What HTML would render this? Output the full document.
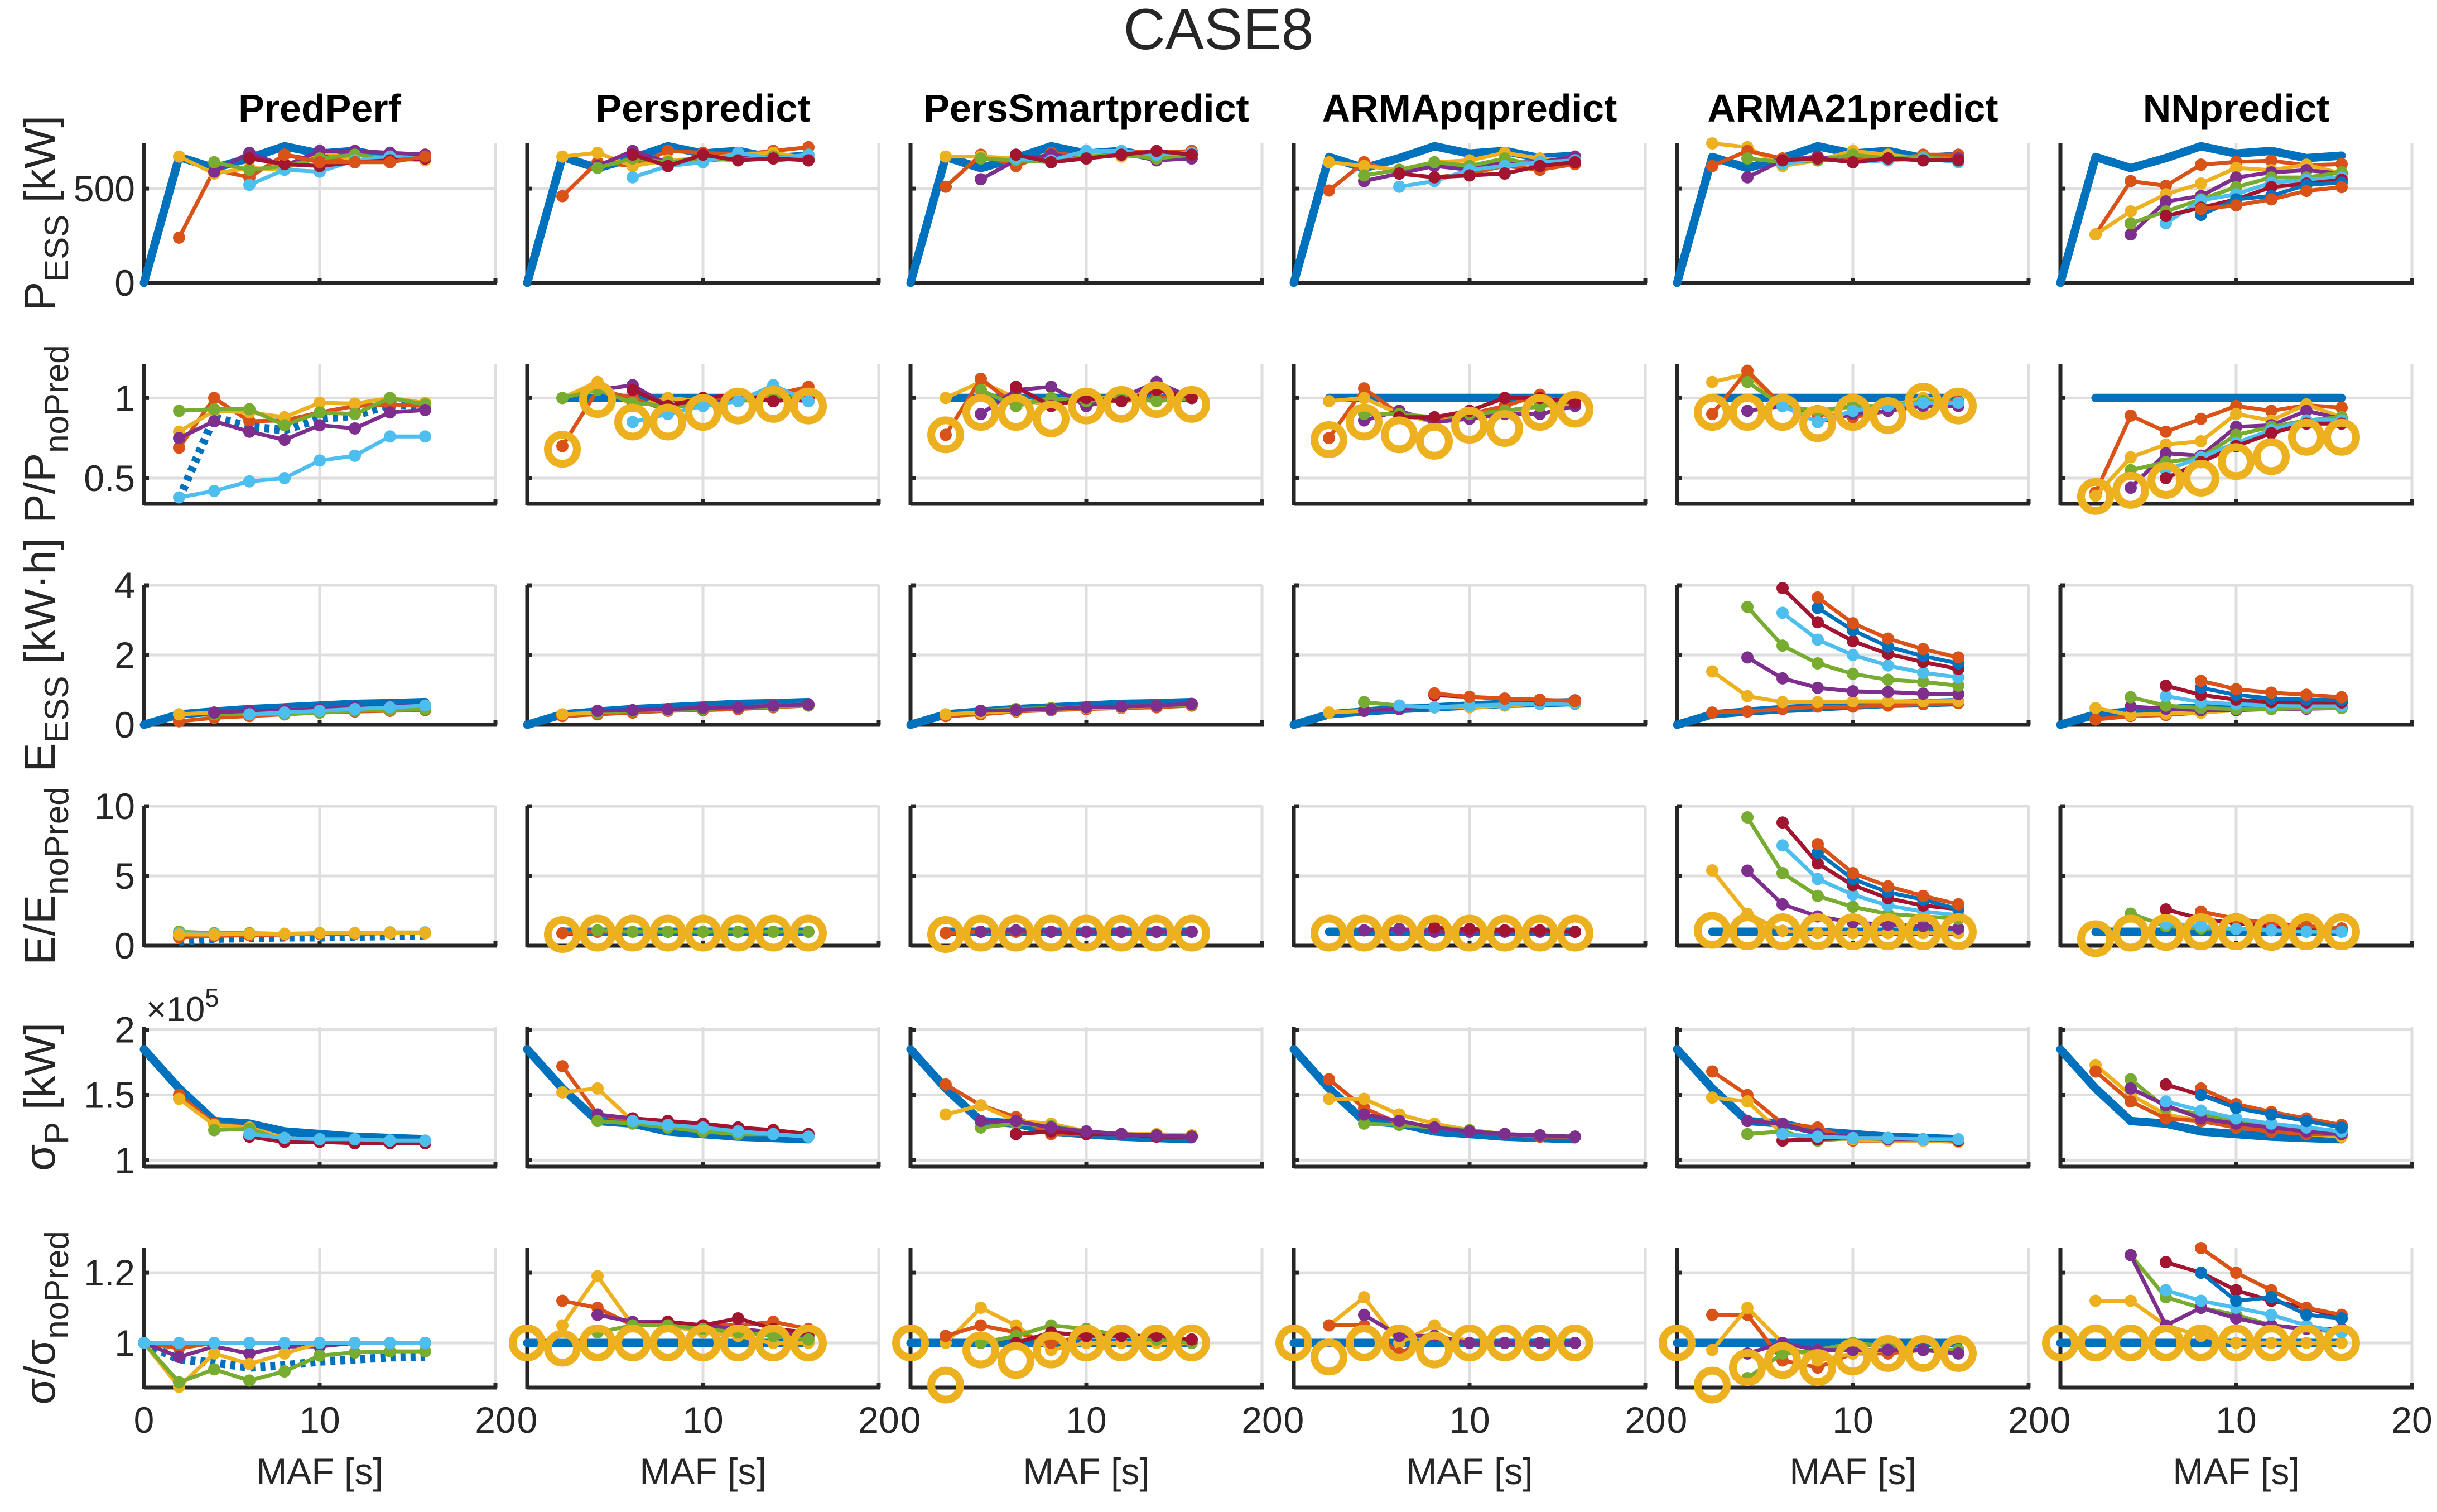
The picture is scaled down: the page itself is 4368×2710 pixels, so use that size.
<!DOCTYPE html>
<html><head><meta charset="utf-8"><style>
html,body{margin:0;padding:0;background:#fff;}
svg{display:block;font-family:"Liberation Sans",sans-serif;}
</style></head><body>
<svg id="fig" width="4368" height="2710" viewBox="0 0 4368 2710" xmlns="http://www.w3.org/2000/svg">
<rect width="4368" height="2710" fill="#fff"/>
<text x="2184" y="88" font-size="104" text-anchor="middle" fill="#262626">CASE8</text>
</svg>
<script>
const xValues=[0,2,4,6,8,10,12,14,16];
const colTitles=["PredPerf","Perspredict","PersSmartpredict","ARMApqpredict","ARMA21predict","NNpredict"];
const xTicks=[0,10,20];
const yLims=[[0,740],[0.34,1.21],[0,4],[0,10],[0.95,2.02],[0.873,1.27]];
const yTicks=[[0,500],[0.5,1],[0,2,4],[0,5,10],[1,1.5,2],[1,1.2]];
const yTickLabels=[["0","500"],["0.5","1"],["0","2","4"],["0","5","10"],["1","1.5","2"],["1","1.2"]];
// reference series
const refP=[0,668,609,662,725,686,700,662,675];
const refE=[0,0.3,0.38,0.45,0.5,0.55,0.6,0.62,0.65];
const refS=[1.85,1.55,1.3,1.28,1.22,1.2,1.18,1.17,1.16];
const ones=[1,1,1,1,1,1,1,1,1];
const dotP1=[0.37,0.88,0.82,0.80,0.87,0.89,0.96,0.95];
const dotE1=[0.3,0.5,0.55,0.6,0.6,0.65,0.7,0.75];
const dotS1=[1,0.953,0.944,0.93,0.936,0.947,0.953,0.959,0.961];
// colours: o orange, y yellow, p purple, g green, l lightblue, r darkred, b blue
// each series: [colour, startIndex, values]
const row0c0=[["o",1,[240,600,560,680,650,650,660,680]],["y",1,[670,580,610,600,700,650,660,650]],["p",2,[590,690,620,700,700,690,680]],["g",2,[640,600,620,660,680,660,660]],["l",3,[520,600,590,650,670,660]],["r",3,[660,630,620,640,650,660]],["o",4,[680,640,640,640,670]]];
const row0c1=[["o",1,[460,640,620,700,690,680,700,720]],["y",1,[670,690,620,650,660,680,690,660]],["p",2,[620,700,640,650,660,670,650]],["g",2,[610,660,640,660,650,670,660]],["l",3,[560,620,640,690,660,680]],["r",3,[680,620,680,650,660,650]]];
const row0c2=[["o",1,[510,680,620,690,670,700,690,700]],["y",1,[670,670,660,660,680,670,670,690]],["p",2,[550,650,680,660,690,650,660]],["g",2,[660,650,640,670,680,660,680]],["l",3,[660,650,700,700,680,690]],["r",3,[680,640,660,680,700,680]]];
const row0c3=[["o",1,[490,640,580,560,580,620,600,630]],["y",1,[640,620,600,640,650,690,660,650]],["p",2,[540,580,620,600,640,640,670]],["g",2,[570,600,640,620,660,620,650]],["l",3,[510,540,600,620,640,650]],["r",3,[580,560,570,580,620,640]]];
const row0c4=[["y",1,[740,720,620,650,700,680,660,670]],["o",1,[620,700,660,650,660,650,680,680]],["p",2,[560,650,670,640,660,650,660]],["g",2,[660,640,650,680,660,670,650]],["l",3,[630,660,640,650,660,640]],["r",3,[650,660,640,660,650,650]]];
const row0c5=[["o",1,[257,540,515,627,642,648,624,630]],["y",1,[257,379,470,527,610,598,627,580]],["p",2,[257,432,461,559,586,598,580]],["g",2,[316,379,443,508,559,559,586]],["l",3,[316,438,470,532,547,559]],["r",3,[355,399,443,508,527,547]],["b",4,[361,443,461,520,532]],["o",4,[393,411,443,488,508]]];
const row1c0=[["o",1,[0.69,1.0,0.855,0.86,0.91,0.95,0.96,0.95]],["y",1,[0.79,0.92,0.91,0.88,0.97,0.965,1.0,0.97]],["g",1,[0.92,0.93,0.93,0.83,0.91,0.90,1.0,0.96]],["p",1,[0.75,0.855,0.79,0.74,0.83,0.81,0.91,0.925]],["l",1,[0.38,0.42,0.48,0.50,0.61,0.64,0.76,0.76]]];
const row1c1=[["y",1,[1.0,1.1,0.95,1.0,0.98,1.0,1.05,1.02]],["p",2,[1.05,1.08,0.95,0.98,1.0,1.0,0.98]],["o",1,[0.7,1.05,1.0,0.92,1.0,1.0,1.02,1.07]],["g",1,[1.0,1.05,0.97,0.95,0.95,0.98,1.0,1.0]],["r",3,[1.05,0.95,1.0,1.02,0.98,1.0]],["l",3,[0.85,0.9,0.95,0.98,1.08,0.98]]];
const row1c2=[["y",1,[1.0,1.1,1.0,0.95,1.0,1.0,1.05,1.0]],["o",1,[0.77,1.12,0.95,1.0,0.98,0.98,1.0,1.02]],["p",2,[0.9,1.05,1.07,0.95,1.0,1.1,1.0]],["g",2,[1.05,0.95,1.0,0.98,1.0,0.98,1.0]],["r",3,[1.07,0.95,1.0,0.98,1.05,1.0]]];
const row1c3=[["o",1,[0.75,1.06,0.9,0.85,0.9,0.95,1.02,0.95]],["y",1,[0.98,1.0,0.9,0.85,0.88,0.9,0.95,0.96]],["p",2,[0.86,0.92,0.85,0.87,0.9,0.9,0.95]],["g",2,[0.9,0.9,0.88,0.9,0.92,0.95,0.98]],["r",3,[0.88,0.88,0.92,1.0,1.0,0.97]]];
const row1c4=[["y",1,[1.1,1.15,0.95,0.9,0.95,0.95,1.0,0.97]],["o",1,[0.9,1.17,0.95,0.9,0.88,0.92,0.97,0.98]],["p",2,[0.92,0.95,0.85,0.9,0.92,0.95,0.95]],["g",2,[1.1,0.95,0.92,0.95,0.95,0.98,0.97]],["l",3,[0.95,0.85,0.92,0.95,0.97,0.97]]];
const row1c5=[["o",1,[0.41,0.89,0.79,0.87,0.95,0.92,0.955,0.94]],["y",1,[0.39,0.63,0.71,0.73,0.90,0.86,0.96,0.88]],["p",2,[0.44,0.655,0.64,0.82,0.83,0.92,0.87]],["g",2,[0.55,0.60,0.63,0.77,0.82,0.86,0.88]],["l",3,[0.55,0.63,0.72,0.80,0.86,0.86]],["r",3,[0.5,0.6,0.7,0.78,0.84,0.84]]];
const row2c0=[["o",1,[0.1,0.2,0.25,0.3,0.35,0.38,0.4,0.42]],["y",1,[0.3,0.35,0.38,0.42,0.45,0.48,0.5,0.55]],["g",2,[0.3,0.3,0.3,0.35,0.4,0.42,0.45]],["p",2,[0.35,0.4,0.42,0.45,0.5,0.52,0.55]],["l",3,[0.3,0.35,0.4,0.45,0.5,0.55]]];
const row2c1=[["o",1,[0.25,0.3,0.35,0.4,0.42,0.45,0.5,0.55]],["y",1,[0.3,0.35,0.4,0.45,0.47,0.5,0.55,0.58]],["g",2,[0.35,0.4,0.42,0.45,0.5,0.52,0.55]],["p",2,[0.4,0.42,0.45,0.48,0.5,0.55,0.58]]];
const row2c2=[["o",1,[0.25,0.3,0.38,0.42,0.45,0.48,0.5,0.55]],["y",1,[0.3,0.35,0.4,0.45,0.48,0.5,0.55,0.58]],["g",2,[0.4,0.45,0.48,0.5,0.52,0.55,0.58]],["p",2,[0.4,0.42,0.45,0.5,0.52,0.55,0.6]]];
const row2c3=[["y",1,[0.35,0.4,0.45,0.5,0.5,0.55,0.6,0.6]],["p",2,[0.4,0.45,0.5,0.55,0.58,0.6,0.62]],["g",2,[0.65,0.55,0.5,0.55,0.58,0.6,0.6]],["l",3,[0.55,0.5,0.55,0.58,0.6,0.62]],["r",4,[0.85,0.8,0.75,0.7,0.7]],["o",4,[0.9,0.8,0.75,0.72,0.68]]];
const row2c4=[["o",1,[0.35,0.38,0.45,0.52,0.52,0.55,0.59,0.62]],["y",1,[1.53,0.82,0.65,0.65,0.67,0.67,0.67,0.68]],["p",2,[1.93,1.33,1.06,0.96,0.94,0.89,0.88]],["g",2,[3.38,2.27,1.76,1.46,1.29,1.23,1.12]],["l",3,[3.21,2.44,2.0,1.70,1.49,1.36]],["r",3,[3.92,2.94,2.40,2.03,1.80,1.60]],["b",4,[3.35,2.71,2.24,1.97,1.76]],["o",4,[3.65,2.91,2.47,2.17,1.93]]];
const row2c5=[["o",1,[0.15,0.25,0.28,0.35,0.42,0.46,0.48,0.52]],["y",1,[0.48,0.28,0.32,0.35,0.42,0.46,0.48,0.52]],["p",2,[0.52,0.46,0.42,0.42,0.45,0.46,0.48]],["g",2,[0.79,0.55,0.48,0.45,0.45,0.48,0.48]],["l",3,[0.82,0.65,0.59,0.55,0.54,0.54]],["r",3,[1.12,0.86,0.72,0.65,0.64,0.64]],["b",4,[1.06,0.86,0.75,0.72,0.71]],["o",4,[1.26,1.02,0.92,0.86,0.79]]];
const row3c0=[["g",1,[1.0,0.9,0.9,0.85,0.9,0.9,0.95,0.95]],["l",1,[0.9,0.85,0.85,0.85,0.9,0.9,0.9,0.95]],["o",1,[0.6,0.7,0.75,0.8,0.85,0.85,0.9,0.9]],["y",1,[0.8,0.8,0.85,0.85,0.9,0.9,0.9,0.9]]];
const row3c1=[["o",1,[0.9,1.0,1.0,1.0,1.0,1.0,1.0,1.0]],["g",2,[1.1,1.0,1.0,1.0,1.0,1.0,1.0]]];
const row3c2=[["o",1,[0.9,1.0,1.0,1.0,1.0,1.0,1.0,1.0]],["p",2,[1.0,1.1,1.0,1.0,1.0,1.0,1.0]]];
const row3c3=[["p",2,[1.1,1.2,1.0,1.0,1.0,1.0,1.0]],["r",4,[1.3,1.2,1.1,1.1,1.0]]];
const row3c4=[["y",1,[5.4,2.28,1.07,0.9,0.9,0.9,0.9,0.9]],["p",2,[5.38,2.97,2.1,1.67,1.5,1.41,1.24]],["g",2,[9.2,5.2,3.57,2.79,2.28,2.1,1.93]],["l",3,[7.19,4.78,3.66,2.88,2.45,2.19]],["r",3,[8.83,5.9,4.34,3.4,2.88,2.62]],["b",4,[6.67,4.78,3.83,3.31,2.62]],["o",4,[7.28,5.2,4.26,3.57,2.97]]];
const row3c5=[["g",2,[2.3,1.4,1.24,1.2,1.2,1.2,1.2]],["r",3,[2.6,1.93,1.6,1.4,1.2,1.1]],["o",4,[2.45,1.93,1.6,1.4,1.24]],["l",3,[1.6,1.4,1.2,1.1,1.0,1.0]]];
const row4c0=[["o",1,[1.5,1.28,1.25,1.15,1.14,1.13,1.13,1.13]],["y",1,[1.47,1.27,1.25,1.17,1.16,1.15,1.15,1.14]],["g",2,[1.23,1.24,1.15,1.16,1.16,1.15,1.15]],["r",3,[1.18,1.14,1.14,1.13,1.13,1.13]],["l",3,[1.2,1.17,1.16,1.16,1.15,1.15]]];
const row4c1=[["o",1,[1.72,1.35,1.3,1.3,1.27,1.25,1.23,1.2]],["y",1,[1.52,1.55,1.3,1.25,1.22,1.2,1.2,1.18]],["p",2,[1.35,1.32,1.3,1.27,1.25,1.22,1.2]],["g",2,[1.3,1.28,1.25,1.22,1.2,1.2,1.18]],["r",3,[1.32,1.3,1.28,1.25,1.23,1.2]],["l",3,[1.3,1.27,1.25,1.22,1.2,1.18]]];
const row4c2=[["o",1,[1.58,1.42,1.33,1.2,1.2,1.2,1.19,1.18]],["y",1,[1.35,1.42,1.3,1.28,1.22,1.2,1.2,1.19]],["g",2,[1.25,1.28,1.26,1.22,1.2,1.19,1.18]],["r",3,[1.2,1.22,1.2,1.2,1.18,1.18]],["p",2,[1.3,1.3,1.25,1.22,1.2,1.19,1.18]]];
const row4c3=[["o",1,[1.62,1.4,1.28,1.25,1.22,1.2,1.18,1.18]],["y",1,[1.47,1.47,1.35,1.28,1.23,1.2,1.19,1.18]],["g",2,[1.28,1.27,1.25,1.23,1.2,1.19,1.18]],["p",2,[1.35,1.3,1.25,1.22,1.2,1.19,1.18]]];
const row4c4=[["o",1,[1.68,1.5,1.28,1.25,1.15,1.15,1.15,1.14]],["y",1,[1.48,1.45,1.2,1.17,1.16,1.15,1.15,1.14]],["g",2,[1.2,1.22,1.15,1.17,1.16,1.16,1.15]],["p",2,[1.3,1.28,1.2,1.18,1.16,1.16,1.15]],["r",3,[1.15,1.16,1.17,1.17,1.16,1.15]],["l",3,[1.2,1.18,1.17,1.17,1.16,1.16]]];
const row4c5=[["y",1,[1.73,1.5,1.35,1.3,1.25,1.22,1.2,1.18]],["o",1,[1.68,1.45,1.32,1.3,1.25,1.22,1.2,1.2]],["g",2,[1.62,1.4,1.35,1.3,1.27,1.25,1.22]],["p",2,[1.55,1.42,1.32,1.28,1.25,1.22,1.2]],["r",3,[1.58,1.5,1.42,1.35,1.3,1.27]],["o",4,[1.55,1.43,1.37,1.32,1.27]],["l",3,[1.45,1.38,1.32,1.28,1.25,1.22]],["b",4,[1.5,1.4,1.35,1.3,1.25]]];
const row5c0=[["o",0,[1.0,0.985,1.0,1.0,1.0,1.0,1.0,1.0,1.0]],["p",0,[1,0.96,0.99,0.97,0.99,0.99,1,1,1]],["y",0,[1,0.875,0.97,0.94,0.97,1.0,1.0,1.0,1.0]],["g",0,[1,0.888,0.925,0.893,0.919,0.964,0.973,0.976,0.976]],["l",0,[1,1,1,1,1,1,1,1,1]]];
const row5c1=[["y",1,[1.05,1.19,1.05,1.05,1.03,1.02,1.0,1.0]],["o",1,[1.12,1.1,1.05,1.06,1.05,1.05,1.06,1.04]],["p",2,[1.08,1.06,1.06,1.05,1.04,1.03,1.02]],["r",3,[1.05,1.06,1.05,1.07,1.04,1.03]],["g",2,[1.03,1.05,1.05,1.04,1.03,1.02,1.01]]];
const row5c2=[["y",1,[1.0,1.1,1.05,0.98,1.0,1.0,1.0,1.0]],["o",1,[1.02,1.05,1.03,1.0,1.02,1.03,1.01,1.0]],["g",2,[1.0,1.02,1.05,1.04,1.02,1.01,1.0]],["r",3,[1.0,1.03,1.02,1.02,1.02,1.01]]];
const row5c3=[["y",1,[1.05,1.13,1.0,1.05,1.0,1.0,1.0,1.0]],["o",1,[1.05,1.05,0.97,1.02,1.0,1.0,1.0,1.0]],["p",2,[1.08,1.02,1.02,1.0,1.0,1.0,1.0]]];
const row5c4=[["o",1,[1.08,1.08,0.95,0.93,0.97,0.97,0.98,0.98]],["y",1,[0.98,1.1,1.0,0.95,0.97,0.98,0.98,0.98]],["g",2,[0.9,0.97,0.98,1.0,0.99,0.98,0.98]],["p",2,[0.97,1.0,0.98,0.98,0.98,0.98,0.97]]];
const row5c5=[["y",1,[1.12,1.12,1.05,1.02,1.0,1.0,1.0,1.0]],["g",2,[1.25,1.13,1.1,1.08,1.05,1.04,1.03]],["p",2,[1.25,1.05,1.1,1.07,1.05,1.04,1.04]],["r",3,[1.23,1.2,1.15,1.12,1.1,1.07]],["o",4,[1.27,1.2,1.15,1.1,1.08]],["l",3,[1.15,1.12,1.1,1.08,1.05,1.03]],["b",4,[1.2,1.12,1.13,1.08,1.07]]];
// circle-marker series (yellow open circles) per ratio row, columns 2-6: [startIndex, values]
const circ1=[null,[1,[0.68,0.99,0.85,0.85,0.91,0.95,0.96,0.95]],[1,[0.77,0.91,0.91,0.87,0.95,0.96,0.99,0.96]],[1,[0.74,0.85,0.77,0.73,0.83,0.81,0.91,0.93]],[1,[0.91,0.91,0.91,0.84,0.91,0.89,0.98,0.95]],[1,[0.386,0.424,0.486,0.5,0.603,0.634,0.755,0.755]]];
const circ3=[null,[1,[0.8,0.9,0.9,0.9,0.9,0.9,0.9,0.9]],[1,[0.8,0.9,0.9,0.9,0.9,0.9,0.9,0.9]],[1,[0.9,0.9,0.9,0.9,0.9,0.9,0.9,0.9]],[1,[1.1,1.0,1.0,1.0,1.0,1.0,1.0,1.0]],[1,[0.5,0.9,0.95,1.0,1.0,0.95,1.0,1.0]]];
const circ5=[null,[0,[1.0,0.985,1.0,1.0,1.0,1.0,1.0,1.0,1.0]],[0,[1.0,0.88,0.98,0.95,0.98,1.0,1.0,1.0,1.0]],[0,[1.0,0.96,1.0,1.0,0.98,1.0,1.0,1.0,1.0]],[0,[1.0,0.88,0.93,0.95,0.93,0.96,0.97,0.97,0.97]],[0,[1,1,1,1,1,1,1,1,1]]];

const COLORS={b:"#0072BD",o:"#D95319",y:"#EDB120",p:"#7E2F8E",g:"#77AC30",l:"#4DBEEE",r:"#A2142F"};
const rowSeries=[[row0c0,row0c1,row0c2,row0c3,row0c4,row0c5],[row1c0,row1c1,row1c2,row1c3,row1c4,row1c5],[row2c0,row2c1,row2c2,row2c3,row2c4,row2c5],[row3c0,row3c1,row3c2,row3c3,row3c4,row3c5],[row4c0,row4c1,row4c2,row4c3,row4c4,row4c5],[row5c0,row5c1,row5c2,row5c3,row5c4,row5c5]];
const circles=[null,circ1,null,circ3,null,circ5];

const svg=document.getElementById('fig');
const NS="http://www.w3.org/2000/svg";
function mk(tag,attrs,parent){const e=document.createElementNS(NS,tag);for(const k in attrs)e.setAttribute(k,attrs[k]);(parent||svg).appendChild(e);return e;}
const L0=258,CW=630,CS=687,T0=257,RH=250,RS=396;
function xs(c,v){return L0+c*CS+v/20*CW;}
function ys(r,v){const lim=yLims[r];return T0+r*RS+RH-(v-lim[0])/(lim[1]-lim[0])*RH;}
function pathD(c,r,start,vals){return vals.map((v,i)=>(i?'L':'M')+xs(c,xValues[start+i]).toFixed(1)+','+ys(r,v).toFixed(1)).join(' ');}

for(let c=0;c<6;c++){
  const t=mk('text',{x:L0+c*CS+CW/2,y:218,'font-size':70,'font-weight':'bold','text-anchor':'middle',fill:'#000'});
  t.textContent=colTitles[c];
  
  
  for(let r=0;r<6;r++){
    const g=mk('g',{});
    
    
    const left=L0+c*CS,top=T0+r*RS,bot=top+RH,right=left+CW;
    [10,20].forEach(v=>mk('line',{x1:xs(c,v),x2:xs(c,v),y1:top,y2:bot,stroke:'#dedede','stroke-width':5},g));
    yTicks[r].forEach(v=>mk('line',{x1:left,x2:right,y1:ys(r,v),y2:ys(r,v),stroke:'#dedede','stroke-width':5},g));
    mk('line',{x1:left,x2:left,y1:top,y2:bot+3,stroke:'#262626','stroke-width':7},g);
    mk('line',{x1:left,x2:right+3,y1:bot,y2:bot,stroke:'#262626','stroke-width':7},g);
    xTicks.forEach(v=>mk('line',{x1:xs(c,v),x2:xs(c,v),y1:bot,y2:bot-9,stroke:'#262626','stroke-width':7},g));
    yTicks[r].forEach(v=>mk('line',{x1:left,x2:left+9,y1:ys(r,v),y2:ys(r,v),stroke:'#262626','stroke-width':7},g));
    if(c===0){
      yTicks[r].forEach((v,i)=>{const tl=mk('text',{x:left-16,y:ys(r,v)+23,'font-size':66,'text-anchor':'end',fill:'#262626'},g);tl.textContent=yTickLabels[r][i];
        
        });
    }
    if(r===5){
      xTicks.forEach(v=>{const tl=mk('text',{x:xs(c,v),y:2568,'font-size':66,'text-anchor':'middle',fill:'#262626'},g);tl.textContent=String(v);
        
        });
      const xl=mk('text',{x:left+CW/2,y:2660,'font-size':66,'text-anchor':'middle',fill:'#262626'},g);xl.textContent='MAF [s]';
      
      
    }
    let ref=null;
    if(r===0) ref={s:0,v:refP};
    if(r===2) ref={s:0,v:refE};
    if(r===4) ref={s:0,v:refS};
    if(r===1) ref=c===0?{s:1,v:dotP1,dash:true}:{s:1,v:ones.slice(1)};
    if(r===3) ref=c===0?{s:1,v:dotE1,dash:true}:{s:1,v:ones.slice(1)};
    if(r===5) ref=c===0?{s:0,v:dotS1,dash:true}:{s:0,v:ones};
    if(ref){
      const rp=mk('path',{d:pathD(c,r,ref.s,ref.v),fill:'none',stroke:COLORS.b,'stroke-width':15,'stroke-linejoin':'round','stroke-linecap':ref.dash?'butt':'round'},g);
      if(ref.dash) rp.setAttribute('stroke-dasharray','9 9');
      
      
    }
    rowSeries[r][c].forEach(s=>{
      const col=COLORS[s[0]];
      const p=mk('path',{d:pathD(c,r,s[1],s[2]),fill:'none',stroke:col,'stroke-width':7,'stroke-linejoin':'round'},g);
      
      
      s[2].forEach((v,i)=>{const m=mk('circle',{cx:xs(c,xValues[s[1]+i]),cy:ys(r,v),r:11,fill:col},g);
        
        });
    });
    if(circles[r]&&circles[r][c]){
      const cs=circles[r][c];
      cs[1].forEach((v,i)=>{const m=mk('circle',{cx:xs(c,xValues[cs[0]+i]),cy:ys(r,v),r:26,fill:'none',stroke:COLORS.y,'stroke-width':14},g);
        
        });
    }
  }
}
const ex=mk('text',{x:262,y:1830,'font-size':62,fill:'#262626'});
ex.innerHTML='×10<tspan dy="-26" font-size="46">5</tspan>';


const yTitles=[["P","ESS"," [kW]"],["P/P","noPred",""],["E","ESS"," [kW·h]"],["E/E","noPred",""],["σ","P"," [kW]"],["σ/σ","noPred",""]];
yTitles.forEach((t,r)=>{
  const cy=T0+r*RS+RH/2;
  const tx=mk('text',{x:0,y:0,'font-size':78,'text-anchor':'middle',fill:'#262626',transform:'translate(98,'+cy+') rotate(-90)'});
  tx.innerHTML=t[0]+'<tspan dy="24" font-size="60">'+t[1]+'</tspan><tspan dy="-24">'+t[2]+'</tspan>';
  
  
});
</script>
</body></html>
